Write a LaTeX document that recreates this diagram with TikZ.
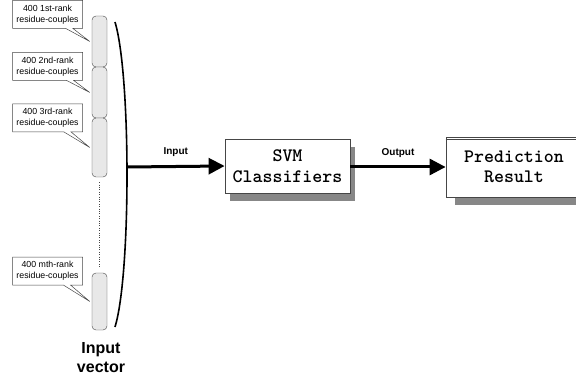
\documentclass[tikz,border=0pt]{standalone}
\usepackage{fontspec}
\setmainfont{Liberation Sans}
\usepackage{tikz}
\usetikzlibrary{shapes.geometric, shapes.callouts, arrows.meta, calc, shadows}
\definecolor{segfill}{RGB}{232,232,232}
\definecolor{shade}{RGB}{135,135,135}
\definecolor{edge}{RGB}{70,70,70}

\tikzset{
  segment/.style={draw=edge, fill=segfill, rounded corners=4pt, minimum width=15pt, inner sep=0pt},
  tag/.style={rectangle callout, draw=edge, fill=white, line width=0.5pt, minimum width=70pt, minimum height=28pt,
    inner sep=1pt, align=center, font=\fontsize{8.8}{11}\selectfont},
  classbox/.style={draw=edge, fill=white, line width=0.8pt, align=center, inner sep=0pt,
    font=\ttfamily\bfseries\fontsize{19}{20.5}\selectfont},
  flow/.style={line width=3pt, -{Triangle[length=16pt,width=16pt]}},
  flowlabel/.style={font=\bfseries\fontsize{10}{12}\selectfont, above=5pt}
}

\begin{document}
\begin{tikzpicture}[x=1pt, y=-1pt]
\useasboundingbox (0,0) rectangle (576,385);

% input vector segments
\node(seg1)[segment, minimum height=51pt] at (99.5, 41.5) {};
\node(seg2)[segment, minimum height=51pt] at (99.5, 92.5) {};
\node(seg3)[segment, minimum height=59pt] at (99.5, 147.5) {};
\node(seg4)[segment, minimum height=57pt] at (99.5, 301.5) {};
\draw[edge, dotted, shorten <=5pt, shorten >=6pt] (seg3.south) -- (seg4.north);

\node(tag1)[tag, callout absolute pointer={([xshift=-2pt]seg1.west)}] at (47.5, 14.5) {400 1st-rank\\residue-couples};
\node(tag2)[tag, callout absolute pointer={([xshift=-2pt]seg2.west)}] at (47.5, 66.5) {400 2nd-rank\\residue-couples};
\node(tag3)[tag, callout absolute pointer={([xshift=-2pt]seg3.west)}] at (47.5, 118) {400 3rd-rank\\residue-couples};
\node(tag4)[tag, callout absolute pointer={([xshift=-2pt]seg4.west)}] at (47.5, 271) {400 mth-rank\\residue-couples};

% bracket
\coordinate (top) at (115, 22);
\coordinate (bottom) at (115, 327);
\coordinate (vecin) at (127, 167);
\draw[line width=1.6pt] (top) .. controls (131, 75) and (131, 275) .. (bottom);

\node(vec)[font=\bfseries\fontsize{16}{19}\selectfont, align=center] at (101, 358) {Input\\vector};

% classifier and result
\node(svm)[classbox, minimum width=125pt, minimum height=54pt,
  drop shadow={shadow xshift=5pt, shadow yshift=-8pt, fill=shade, opacity=1}] at (287.5, 166) {SVM\\Classifiers};
\node(pred)[classbox, minimum width=136pt, minimum height=60pt,
  drop shadow={shadow xshift=9pt, shadow yshift=-8pt, fill=shade, opacity=1}] at (514, 167) {Prediction\\Result};
\draw[edge, line width=0.6pt] ([yshift=-2.5pt]pred.north west) -- ([yshift=-2.5pt]pred.north east);

\draw[flow] (vecin) -- node(inlabel)[flowlabel]{Input} (svm.west);
\draw[flow] (svm.east |- pred.west) -- node(outlabel)[flowlabel]{Output} (pred.west);
\end{tikzpicture}
\end{document}
